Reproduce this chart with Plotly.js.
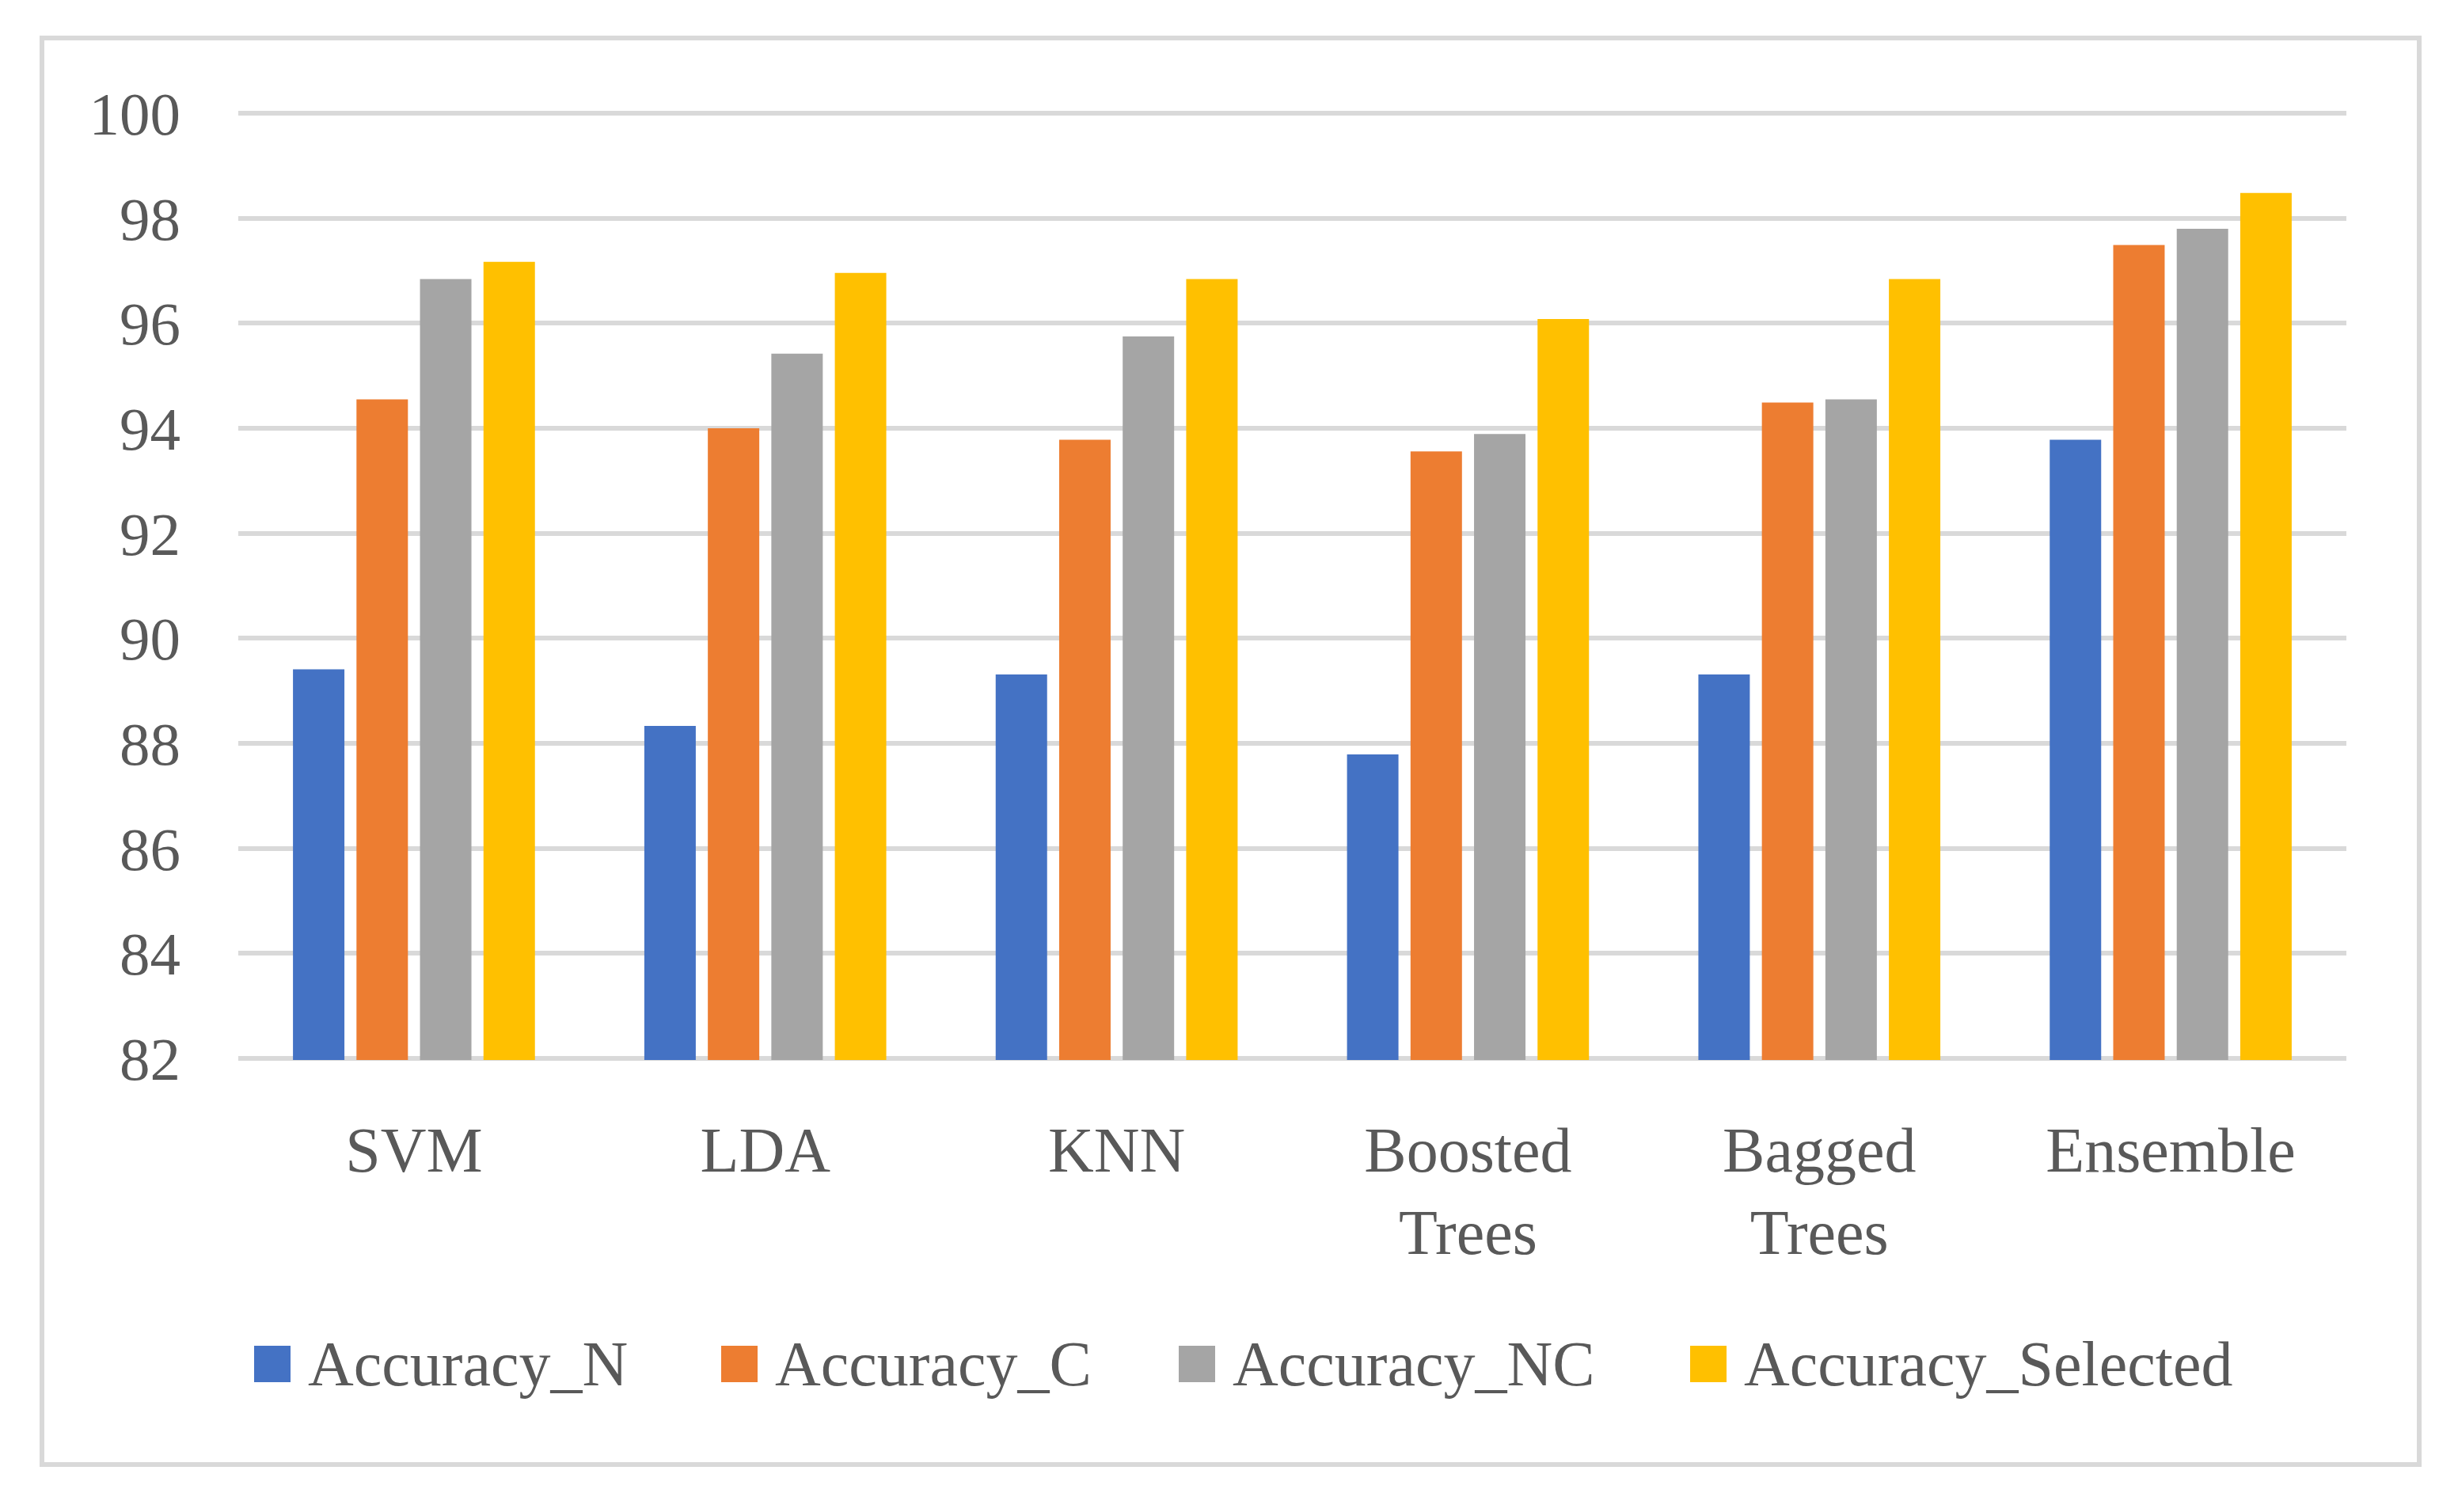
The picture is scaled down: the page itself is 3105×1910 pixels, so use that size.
<!DOCTYPE html>
<html>
<head>
<meta charset="utf-8">
<script src="https://cdn.plot.ly/plotly-3.0.1.min.js"></script>
<style>html,body{margin:0;padding:0;background:#fff;}#chart{width:3105px;height:1910px;}</style>
</head>
<body>
<div id="chart"></div>
<script>
const categories = ["SVM", "LDA", "KNN", "Boosted<br>Trees", "Bagged<br>Trees", "Ensemble"];
const seriesNames = ["Accuracy_N", "Accuracy_C", "Accuracy_NC", "Accuracy_Selected"];
const accuracyN = [89.41, 88.33, 89.31, 87.79, 89.31, 93.78];
const accuracyC = [94.55, 94.00, 93.78, 93.56, 94.49, 97.49];
const accuracyNC = [96.84, 95.42, 95.75, 93.89, 94.55, 97.80];
const accuracySelected = [97.17, 96.96, 96.84, 96.08, 96.84, 98.48];
const yTicks = [82, 84, 86, 88, 90, 92, 94, 96, 98, 100];

const colors = ["#4472C4", "#ED7D31", "#A5A5A5", "#FFC000"];
const seriesValues = [accuracyN, accuracyC, accuracyNC, accuracySelected];

const W = 3105, H = 1910;
const plotL = 301, plotR = 2964, plotT = 141, plotB = 1339;
const fontFam = "Liberation Serif, DejaVu Serif, serif";
const textColor = "#595959";

const traces = seriesNames.map((name, i) => ({
  type: "bar",
  name: name,
  x: categories,
  y: seriesValues[i],
  marker: {color: colors[i], line: {width: 0}},
  showlegend: false,
  hoverinfo: "x+y+name"
}));

// manual legend (large square markers as in the reference)
const legendX = [321, 911, 1489, 2135];
const legendY = 1723;
const sq = 46;
const px2x = p => (p - plotL) / (plotR - plotL);
const px2y = p => (plotB - p) / (plotB - plotT);

const shapes = [];
const annotations = [];
seriesNames.forEach((name, i) => {
  shapes.push({
    type: "rect", xref: "paper", yref: "paper",
    x0: px2x(legendX[i]), x1: px2x(legendX[i] + sq),
    y0: px2y(legendY + sq / 2), y1: px2y(legendY - sq / 2),
    fillcolor: colors[i], line: {width: 0}
  });
  annotations.push({
    xref: "paper", yref: "paper",
    x: px2x(legendX[i] + sq + 20), y: px2y(legendY),
    xanchor: "left", yanchor: "middle",
    text: name, showarrow: false,
    font: {family: fontFam, size: 80, color: textColor}
  });
});

// outer border
shapes.push({
  type: "rect", xref: "paper", yref: "paper",
  x0: px2x(53), x1: px2x(3056), y0: px2y(1850), y1: px2y(48),
  line: {color: "#D9D9D9", width: 6}, fillcolor: "rgba(0,0,0,0)", layer: "below"
});

const layout = {
  width: W, height: H,
  margin: {l: plotL, r: W - plotR, t: plotT, b: H - plotB, pad: 0},
  paper_bgcolor: "#ffffff",
  plot_bgcolor: "#ffffff",
  barmode: "group",
  bargap: 0.277,
  bargroupgap: 0.19,
  showlegend: false,
  font: {family: fontFam, size: 76, color: textColor},
  xaxis: {
    type: "category",
    showgrid: false, zeroline: false, showline: false,
    ticks: "", ticklabelstandoff: 60,
    tickfont: {family: fontFam, size: 80, color: textColor},
    fixedrange: true
  },
  yaxis: {
    range: [81.97, 100.03],
    tickvals: yTicks,
    ticktext: yTicks.map(String),
    showgrid: true, gridcolor: "#D9D9D9", gridwidth: 6,
    zeroline: false, showline: false,
    ticks: "", ticklabelstandoff: 72,
    tickfont: {family: fontFam, size: 77, color: textColor},
    fixedrange: true
  },
  shapes: shapes,
  annotations: annotations
};

Plotly.newPlot("chart", traces, layout, {displayModeBar: false, staticPlot: true});
</script>
</body>
</html>
